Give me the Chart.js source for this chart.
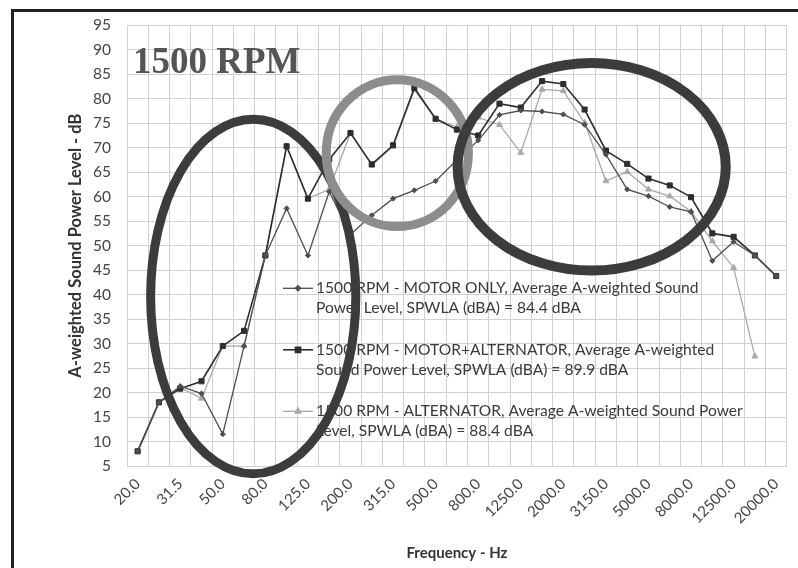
<!DOCTYPE html>
<html>
<head>
<meta charset="utf-8">
<script src="https://cdn.jsdelivr.net/npm/chart.js@4.4.1/dist/chart.umd.min.js"></script>
<style>
  html, body { margin: 0; padding: 0; background: #fff; }
  #wrap { position: relative; width: 798px; height: 568px; overflow: hidden; }
  #frame { position: absolute; left: 11px; top: 9px; width: 820px; height: 620px;
           border-left: 3px solid #222; border-top: 3px solid #222; }
  canvas { position: absolute; left: 0; top: 0; }
</style>
</head>
<body>
<div id="wrap">
  <div id="frame"></div>
  <canvas id="grafico" width="798" height="568"></canvas>
</div>
<script>
  // 1/3 octave bands, Hz
  const frequencias = [20, 25, 31.5, 40, 50, 63, 80, 100, 125, 160, 200, 250, 315, 400, 500, 630,
    800, 1000, 1250, 1600, 2000, 2500, 3150, 4000, 5000, 6300, 8000, 10000, 12500, 16000, 20000];

  // A-weighted sound power level, dB
  const motorOnly = [8, 18, 21.3, 19.8, 11.5, 29.5, 48, 57.6, 48, 61, 52.3, 56.2, 59.6, 61.3, 63.2, 67.5,
    71.5, 76.7, 77.6, 77.4, 76.8, 74.7, 68.6, 61.5, 60.1, 57.9, 56.9, 46.9, 50.8, 48, 43.8];
  const motorAlt = [8, 18, 20.8, 22.3, 29.5, 32.6, 48, 70.3, 59.6, 67.6, 73, 66.6, 70.5, 82.2, 75.9, 73.7,
    72.5, 79, 78.2, 83.6, 83, 77.8, 69.4, 66.7, 63.7, 62.3, 59.9, 52.5, 51.8, 48, 43.8];
  const alternator = [8, 18, 21, 18.8, 29.5, 29.5, 48, 70.3, 59.6, 61.5, 73, 66.4, 70.3, 81.8, 75.9, 74.2,
    76.2, 74.7, 69, 81.9, 81.6, 75.1, 63.2, 65.1, 61.5, 60.1, 57, 50.9, 45.5, 27.4, null];

  const yMin = 5, yMax = 95, yStep = 5;

  const legendas = [
    ["1500 RPM - MOTOR ONLY, Average A-weighted Sound", "Power Level, SPWLA (dBA) = 84.4 dBA"],
    ["1500 RPM - MOTOR+ALTERNATOR, Average A-weighted", "Sound Power Level, SPWLA (dBA) = 89.9 dBA"],
    ["1500 RPM - ALTERNATOR, Average A-weighted Sound Power", "Level, SPWLA (dBA) = 88.4 dBA"]
  ];
  const titulo = "1500 RPM";

  // hand drawn circles, in data units (band index, dB)
  const elipses = [
    { cx: 5.43, cy: 39.6, rx: 4.82, ry: 36.2, cor: "#3c3c3c", largura: 9 },
    { cx: 12.2, cy: 68.9, rx: 3.34, ry: 15.0, cor: "#8d8d8d", largura: 9 },
    { cx: 21.33, cy: 66.1, rx: 6.3, ry: 21.2, cor: "#3c3c3c", largura: 10 }
  ];

  const cores = ["#4f4f4f", "#2e2e2e", "#a8a8a8"];
  const estilos = ["rectRot", "rect", "triangle"];
  const raios = [2.6, 3.6, 3.4];

  const extras = {
    id: "extras",
    afterDatasetsDraw(chart) {
      const ctx = chart.ctx;
      const area = chart.chartArea;
      const sx = chart.scales.x, sy = chart.scales.y;
      ctx.save();

      // titulo
      ctx.fillStyle = "#555";
      ctx.font = "bold 37px 'Liberation Serif', 'DejaVu Serif', serif";
      ctx.textBaseline = "alphabetic";
      ctx.fillText(titulo, area.left + 6, area.top + 48);

      // legenda
      ctx.font = "15.6px Lato, 'Noto Sans', sans-serif";
      ctx.textBaseline = "middle";
      legendas.forEach((linhas, i) => {
        const x0 = area.left + 156;
        const y0 = area.top + 263 + i * 61.5;
        ctx.strokeStyle = cores[i];
        ctx.fillStyle = cores[i];
        ctx.lineWidth = i === 1 ? 1.6 : 1.3;
        ctx.beginPath();
        ctx.moveTo(x0, y0);
        ctx.lineTo(x0 + 30, y0);
        ctx.stroke();
        Chart.helpers.drawPoint(ctx, { pointStyle: estilos[i], radius: raios[i], borderWidth: 1 }, x0 + 15, y0);
        ctx.fillStyle = "#3a3a3a";
        linhas.forEach((t, k) => ctx.fillText(t, x0 + 33, y0 + k * 20));
      });

      // elipses
      const pxX = sx.getPixelForValue(1) - sx.getPixelForValue(0);
      const pxY = sy.getPixelForValue(0) - sy.getPixelForValue(1);
      elipses.forEach(e => {
        ctx.strokeStyle = e.cor;
        ctx.lineWidth = e.largura;
        ctx.beginPath();
        ctx.ellipse(sx.getPixelForValue(e.cx), sy.getPixelForValue(e.cy), e.rx * pxX, e.ry * pxY, 0, 0, Math.PI * 2);
        ctx.stroke();
      });
      ctx.restore();
    }
  };

  function serie(label, dados, i) {
    return {
      label: label,
      data: dados,
      borderColor: cores[i],
      backgroundColor: cores[i],
      pointBackgroundColor: cores[i],
      pointBorderColor: cores[i],
      borderWidth: i === 1 ? 1.6 : 1.3,
      pointStyle: estilos[i],
      pointRadius: raios[i],
      pointBorderWidth: 1,
      tension: 0,
      spanGaps: false
    };
  }

  function desenharGrafico() {
    const ctx = document.getElementById("grafico").getContext("2d");
    new Chart(ctx, {
      type: "line",
      data: {
        labels: frequencias.map(f => f.toFixed(1)),
        datasets: [
          serie(legendas[0].join(" "), motorOnly, 0),
          serie(legendas[1].join(" "), motorAlt, 1),
          serie(legendas[2].join(" "), alternator, 2)
        ]
      },
      options: {
        responsive: false,
        animation: false,
        layout: { padding: { left: 63, top: 24, right: 2, bottom: 4 } },
        plugins: {
          legend: { display: false },
          tooltip: { enabled: false }
        },
        scales: {
          x: {
            offset: true,
            grid: { offset: true, color: "#d0d0d0", drawTicks: false },
            border: { color: "#d0d0d0" },
            ticks: {
              autoSkip: false,
              minRotation: 45,
              maxRotation: 45,
              padding: 9,
              color: "#444",
              font: { family: "Lato, 'Noto Sans', sans-serif", size: 15 },
              callback: (v, i) => (i % 2 === 0 ? frequencias[i].toFixed(1) : "")
            },
            title: {
              display: true,
              text: "Frequency - Hz",
              color: "#333",
              font: { family: "Lato, 'Noto Sans', sans-serif", size: 15, weight: "bold" },
              padding: { top: 4, bottom: 2 }
            },
            afterFit: s => { s.height = 98; }
          },
          y: {
            min: yMin,
            max: yMax,
            grid: { color: "#d0d0d0", drawTicks: false },
            border: { color: "#d0d0d0" },
            ticks: {
              stepSize: yStep,
              padding: 16,
              color: "#444",
              font: { family: "Lato, 'Noto Sans', sans-serif", size: 15.5 }
            },
            title: {
              display: true,
              text: "A-weighted Sound Power Level - dB",
              color: "#333",
              font: { family: "Lato, 'Noto Sans', sans-serif", size: 16.5, weight: "bold" },
              padding: 3
            },
            afterFit: s => { s.width = 64; }
          }
        }
      },
      plugins: [extras]
    });
  }

  document.addEventListener("DOMContentLoaded", desenharGrafico);
</script>
</body>
</html>
